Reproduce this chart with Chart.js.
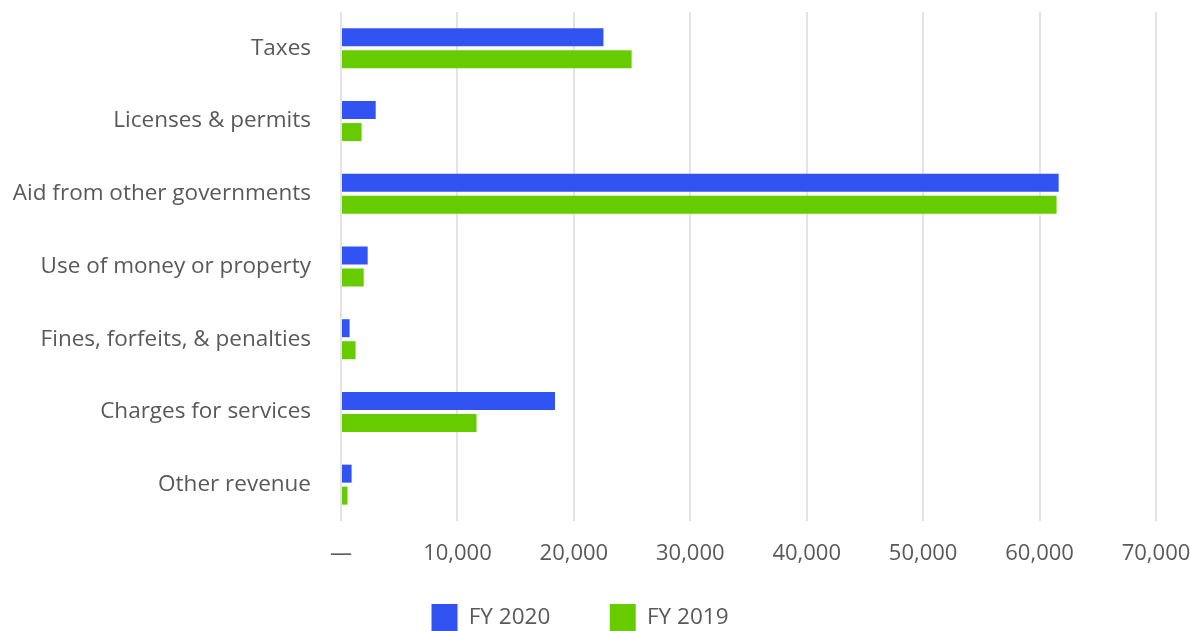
<!DOCTYPE html>
<html lang="en">
<head>
<meta charset="UTF-8">
<title>Revenue by source</title>
<script src="https://cdn.jsdelivr.net/npm/chart.js"></script>
<style>
    html, body { margin: 0; padding: 0; background: #fff; }
    #wrap { width: 1190px; height: 631px; }
</style>
</head>
<body>
<div id="wrap"><canvas id="chart"></canvas></div>
<script>
    const categories = ['Taxes', 'Licenses & permits', 'Aid from other governments', 'Use of money or property',
        'Fines, forfeits, & penalties', 'Charges for services', 'Other revenue'];
    const fy2020 = [22540, 2980, 61640, 2290, 740, 18380, 910];
    const fy2019 = [24960, 1770, 61460, 1950, 1250, 11640, 560];
    const seriesNames = ['FY 2020', 'FY 2019'];
    const xMax = 70000;
    const xStep = 10000;

    Chart.defaults.font.family = '"Open Sans", sans-serif';
    Chart.defaults.color = '#595959';

    const defaultLabels = Chart.defaults.plugins.legend.labels.generateLabels;

    new Chart(document.getElementById('chart'), {
        type: 'bar',
        data: {
            labels: categories,
            datasets: [{
                label: seriesNames[0],
                data: fy2020,
                backgroundColor: '#3053F2',
                categoryPercentage: 0.605,
                barPercentage: 0.818
            }, {
                label: seriesNames[1],
                data: fy2019,
                backgroundColor: '#66CC00',
                categoryPercentage: 0.605,
                barPercentage: 0.818
            }]
        },
        options: {
            indexAxis: 'y',
            responsive: true,
            maintainAspectRatio: false,
            animation: false,
            layout: { padding: { top: 12, left: 4, right: 34, bottom: -10 } },
            scales: {
                x: {
                    min: 0,
                    max: xMax,
                    grid: { color: '#e3e3e3', lineWidth: 2, drawTicks: false },
                    border: { display: false },
                    ticks: {
                        stepSize: xStep,
                        padding: 20,
                        font: { size: 22 },
                        callback: v => v === 0 ? '—' : v.toLocaleString('en-US')
                    },
                    // keep the plot edge where the original has it
                    afterFit: s => { s.paddingLeft = 0; s.paddingRight = 3; s.height = 46; }
                },
                y: {
                    grid: { display: false, drawTicks: false },
                    border: { display: false },
                    ticks: { font: { size: 22.5 }, padding: 30 },
                    afterFit: s => { s.paddingTop = 0; s.paddingBottom = 0; s.width = 337; }
                }
            },
            plugins: {
                legend: {
                    position: 'bottom',
                    labels: {
                        boxWidth: 26,
                        boxHeight: 27,
                        padding: 37,
                        font: { size: 22.5 },
                        // a little extra room after the first entry
                        generateLabels: chart => defaultLabels(chart).map((l, i) =>
                            i === 0 ? Object.assign(l, { text: l.text + '\u2002\u2002' }) : l)
                    }
                },
                tooltip: { enabled: false }
            }
        }
    });
</script>
</body>
</html>
